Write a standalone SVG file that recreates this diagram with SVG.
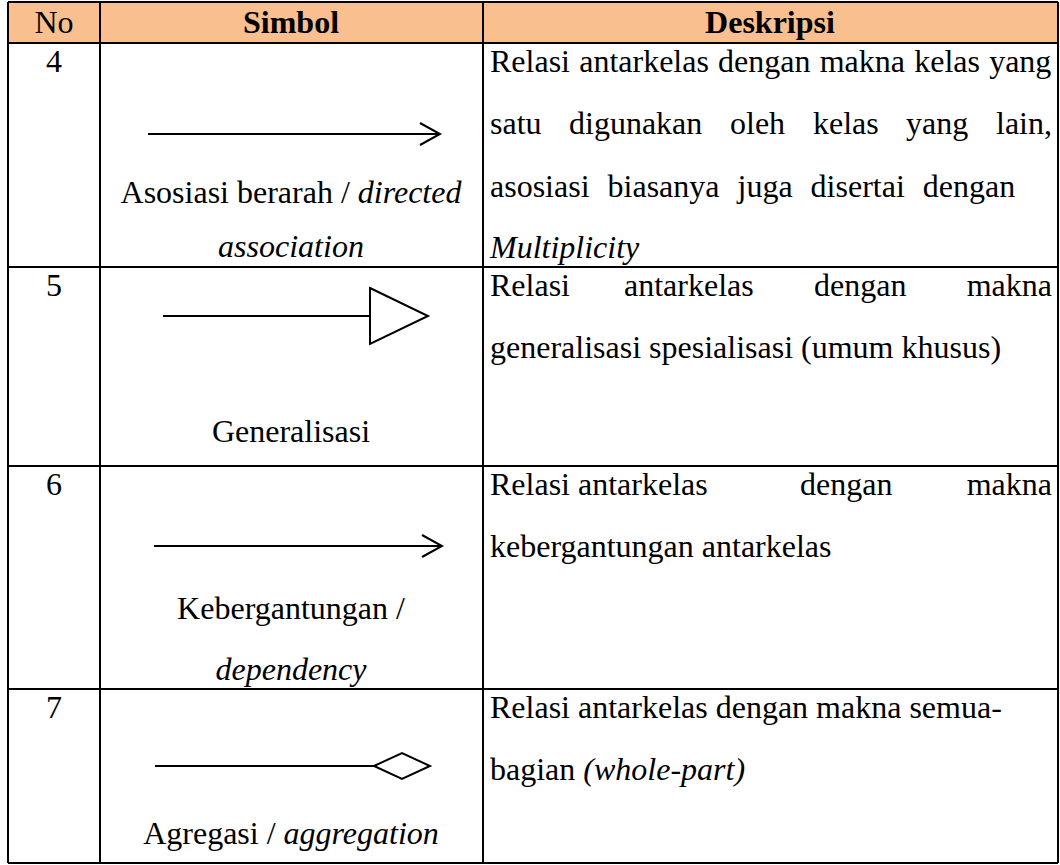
<svg xmlns="http://www.w3.org/2000/svg" width="1060" height="865" viewBox="0 0 1060 865">
<style>
text{font-family:"Liberation Serif","Times New Roman",serif;font-size:32px;fill:#000}
.c{text-anchor:middle}
.e{text-anchor:end}
.b{font-weight:bold}
.i{font-style:italic}
.grid{stroke:#000;stroke-width:2;fill:none}
.sym{stroke:#000;stroke-width:2;fill:#fff}
.open{stroke:#000;stroke-width:2;fill:none}
</style>
<rect x="0" y="0" width="1060" height="865" fill="#fff"/>
<g id="header">
<rect x="8" y="2" width="1050" height="41" fill="#F9BF8F"/>
<text class="c" x="54" y="33">No</text>
<text class="c b" x="291" y="33">Simbol</text>
<text class="c b" x="770" y="33">Deskripsi</text>
</g>
<g id="grid">
<line class="grid" x1="8" y1="2" x2="1058" y2="2"/>
<line class="grid" x1="8" y1="43" x2="1058" y2="43"/>
<line class="grid" x1="8" y1="267" x2="1058" y2="267"/>
<line class="grid" x1="8" y1="466" x2="1058" y2="466"/>
<line class="grid" x1="8" y1="689" x2="1058" y2="689"/>
<line class="grid" x1="8" y1="863" x2="1058" y2="863"/>
<line class="grid" x1="8" y1="2" x2="8" y2="863"/>
<line class="grid" x1="100" y1="2" x2="100" y2="863"/>
<line class="grid" x1="483" y1="2" x2="483" y2="863"/>
<line class="grid" x1="1058" y1="2" x2="1058" y2="863"/>
</g>
<g id="row4">
<text class="c" x="54" y="72">4</text>
<text x="490" y="72" word-spacing="1.2">Relasi antarkelas dengan makna kelas yang</text>
<text y="134"><tspan x="490">satu</tspan><tspan x="569">digunakan</tspan><tspan x="730">oleh</tspan><tspan x="813">kelas</tspan><tspan x="906">yang</tspan></text>
<text class="e" x="1052" y="134">lain,</text>
<text x="490" y="197" word-spacing="10">asosiasi biasanya juga disertai dengan</text>
<text class="i" x="490" y="258">Multiplicity</text>
<text class="c" x="291" y="203">Asosiasi berarah / <tspan class="i">directed</tspan></text>
<text class="c i" x="291" y="257">association</text>
</g>
<g id="row5">
<text class="c" x="54" y="296">5</text>
<text x="490" y="296">Relasi</text>
<text x="624" y="296">antarkelas</text>
<text x="814" y="296">dengan</text>
<text class="e" x="1052" y="296">makna</text>
<text x="490" y="358">generalisasi spesialisasi (umum khusus)</text>
<text class="c" x="291" y="442">Generalisasi</text>
</g>
<g id="row6">
<text class="c" x="54" y="495">6</text>
<text x="490" y="495">Relasi antarkelas</text>
<text x="800" y="495">dengan</text>
<text class="e" x="1052" y="495">makna</text>
<text x="490" y="557">kebergantungan antarkelas</text>
<text class="c" x="291" y="619">Kebergantungan /</text>
<text class="c i" x="291" y="680">dependency</text>
</g>
<g id="row7">
<text class="c" x="54" y="718">7</text>
<text x="490" y="718">Relasi antarkelas dengan makna semua-</text>
<text x="490" y="780">bagian <tspan class="i">(whole-part)</tspan></text>
<text class="c" x="291" y="844">Agregasi / <tspan class="i">aggregation</tspan></text>
</g>
<g id="connectors">
<line class="sym" x1="148" y1="134" x2="440" y2="134"/>
<polyline class="open" points="420,123 440,134 420,145"/>
<line class="sym" x1="163" y1="316" x2="370" y2="316"/>
<polygon class="sym" points="370,288 428,316 370,344"/>
<line class="sym" x1="154" y1="546" x2="442" y2="546"/>
<polyline class="open" points="422,535 442,546 422,557"/>
<line class="sym" x1="155" y1="766" x2="374" y2="766"/>
<polygon class="sym" points="374,766 402,753 430,766 402,779"/>
</g>
</svg>
